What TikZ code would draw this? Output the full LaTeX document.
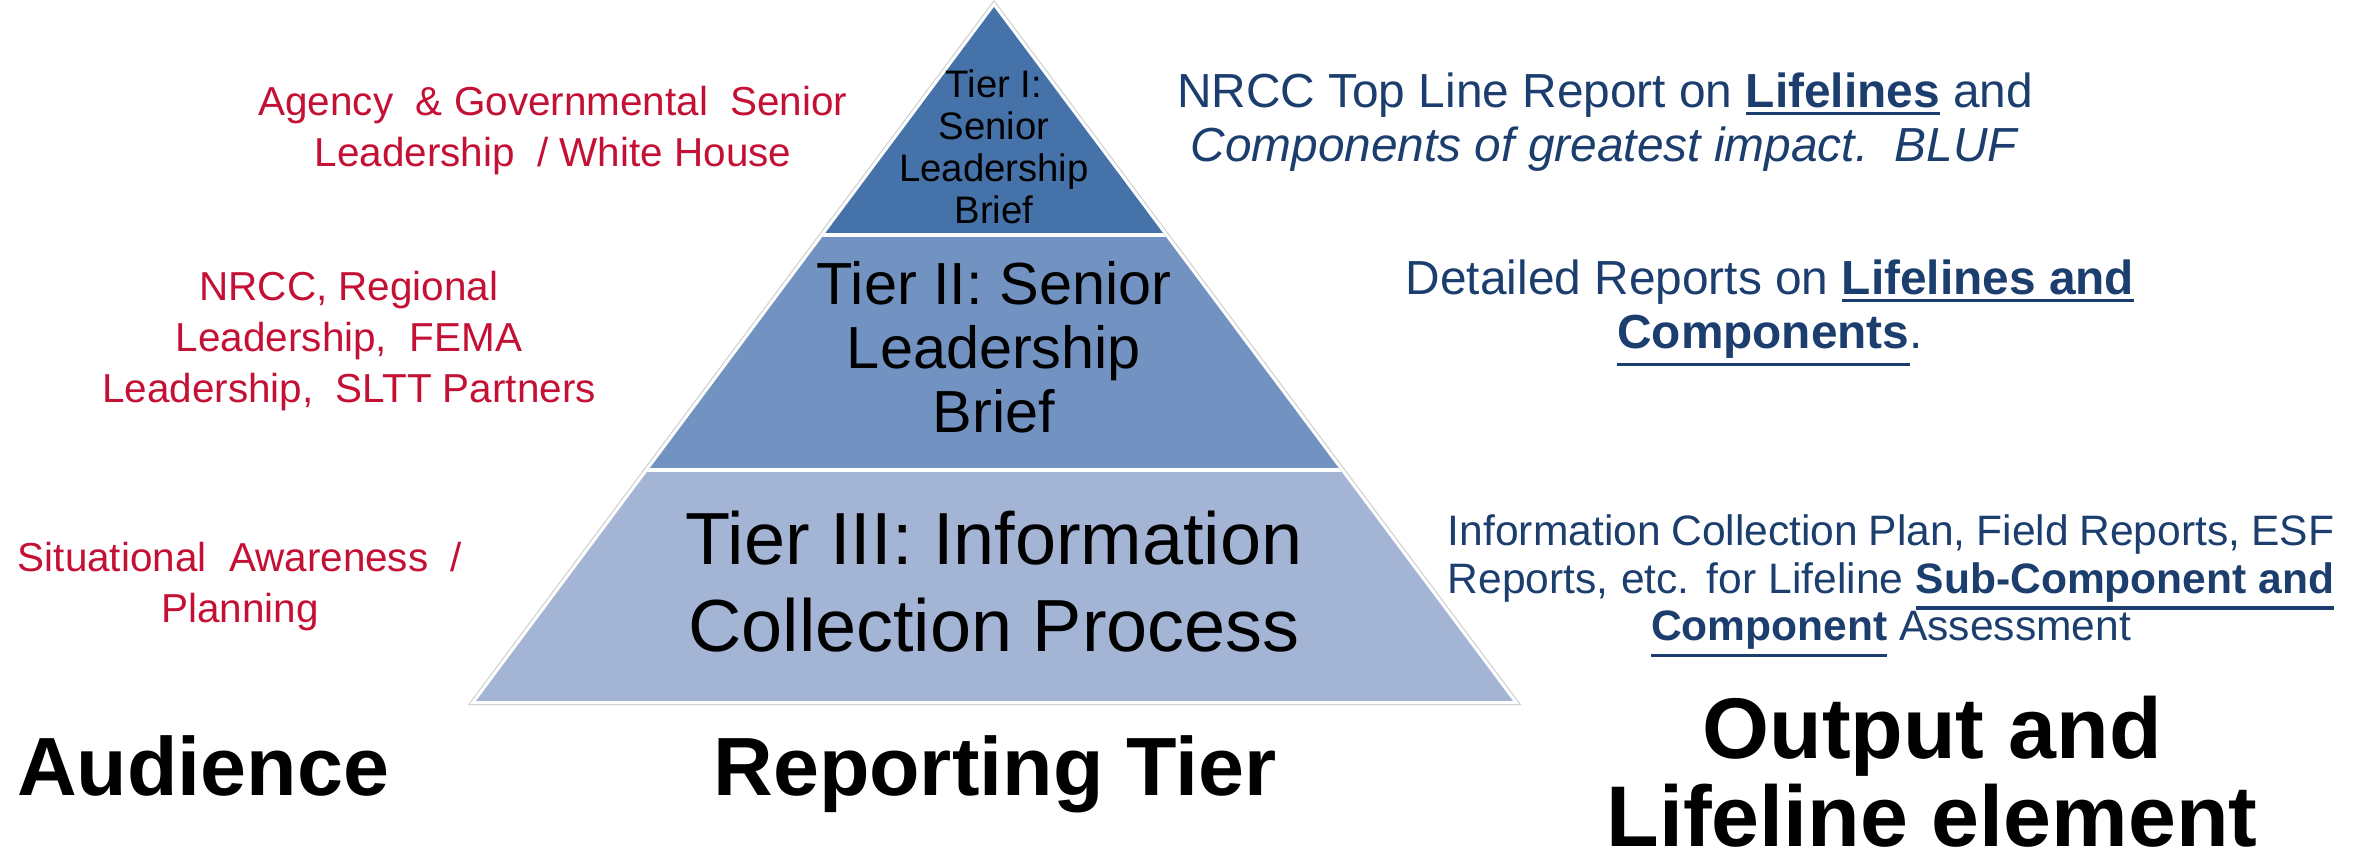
\documentclass[tikz,border=0pt]{standalone}
\usepackage{fontspec}
\setmainfont{Liberation Sans}
\usetikzlibrary{positioning, calc}

\definecolor{audred}{RGB}{196,16,52}
\definecolor{outblue}{RGB}{28,62,110}
\definecolor{tierone}{RGB}{70,114,170}
\definecolor{tiertwo}{RGB}{114,146,193}
\definecolor{tierthree}{RGB}{163,180,213}

% fett und unterstrichen
\newcommand{\ulbf}[1]{\leavevmode\vtop{\hbox{\textbf{#1}}\kern1.2pt\hrule height 0.9pt}}

\tikzset{
  redtext/.style={text=audred, align=center, inner sep=0pt, font=\fontsize{11.5}{14.5}\selectfont},
  bluetext/.style={text=outblue, align=center, inner sep=0pt, font=\fontsize{13.6}{15.4}\selectfont},
  tiertext/.style={align=center, inner sep=0pt},
  heading/.style={anchor=base, inner sep=0pt, font=\bfseries\fontsize{23.5}{26}\selectfont}
}

\begin{document}
\begin{tikzpicture}[x=0.01cm, y=-0.01cm]
\useasboundingbox (0,0) rectangle (2361,859);

% Ecken der Pyramide
\coordinate (top) at (994,7);
\coordinate (bl) at (476,701);
\coordinate (br) at (1513,701);

% Pyramide
\draw[gray!40, line width=2.4pt] (top) -- (bl) -- (br) -- cycle;
\draw[white, line width=1.8pt] (top) -- (bl) -- (br) -- cycle;
\begin{scope}
\clip (top) -- (bl) -- (br) -- cycle;
\fill[tierone] (400,0) rectangle (1600,235);
\fill[tiertwo] (400,235) rectangle (1600,470);
\fill[tierthree] (400,470) rectangle (1600,701);
\draw[white, line width=1.2pt] (400,235) -- (1600,235);
\draw[white, line width=1.2pt] (400,470) -- (1600,470);
\end{scope}

% Stufen
\node[tiertext, font=\fontsize{10.9}{11.9}\selectfont] (t1) at (994,147) {Tier I:\\Senior\\Leadership\\Brief};
\node[tiertext, font=\fontsize{16.9}{18.2}\selectfont] (t2) at (994,347) {Tier II: Senior\\Leadership\\Brief};
\node[tiertext, font=\fontsize{21}{24.7}\selectfont] (t3) at (994,582) {Tier III: Information\\Collection Process};

% Zielgruppe
\node[redtext] (a1) at (553,131) {Agency\ \ \& Governmental\ \ Senior\\Leadership\ \ / White House};
\node[redtext] (a2) at (349,341) {NRCC, Regional\\Leadership,\ \ FEMA\\Leadership,\ \ SLTT Partners};
\node[redtext] (a3) at (240,587) {Situational\ \ Awareness\ \ /\\Planning};

% Ergebnis
\node[bluetext] (o1) at (1605,122) {NRCC Top Line Report on \ulbf{Lifelines} and\\\textit{Components of greatest impact.\ \ BLUF}};
\node[bluetext] (o2) at (1770,313) {Detailed Reports on \ulbf{Lifelines and}\\\ulbf{Components}.};
\node[bluetext, font=\fontsize{12.1}{13.5}\selectfont] (o3) at (1891,586)
  {\makebox[252pt][s]{Information Collection Plan, Field Reports, ESF}\\
   \makebox[252pt][s]{Reports, etc. for Lifeline \ulbf{Sub-Component and}}\\
   \ulbf{Component}\ Assessment};

% Ueberschriften
\node[heading] (h1) at (203,795) {Audience};
\node[heading] (h2) at (995,795) {Reporting Tier};
\node[heading, font=\bfseries\fontsize{24.5}{26}\selectfont] (h3) at (1932,758) {Output and};
\node[heading, font=\bfseries\fontsize{24.5}{26}\selectfont] (h4) at (1932,846) {Lifeline element};

\end{tikzpicture}
\end{document}
